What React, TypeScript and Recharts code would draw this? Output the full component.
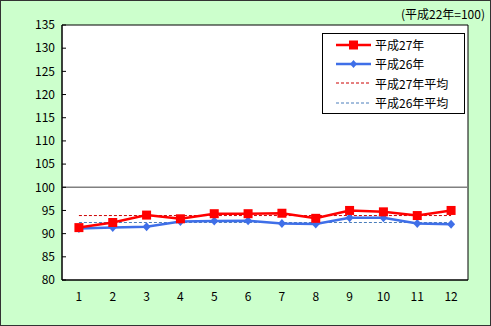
import React from "react";
import {
  ComposedChart,
  Line,
  XAxis,
  YAxis,
  CartesianGrid,
  ReferenceLine,
  ReferenceArea,
} from "recharts";

const months = ["1", "2", "3", "4", "5", "6", "7", "8", "9", "10", "11", "12"];
const h27 = [91.3, 92.4, 94.0, 93.2, 94.3, 94.3, 94.4, 93.3, 95.0, 94.7, 93.9, 95.0];
const h26 = [91.1, 91.3, 91.5, 92.6, 92.7, 92.8, 92.2, 92.1, 93.4, 93.4, 92.2, 92.0];
const h27Avg = 93.9;
const h26Avg = 92.4;
const yTicks = [80, 85, 90, 95, 100, 105, 110, 115, 120, 125, 130, 135];

const names = {
  h27: "平成27年",
  h26: "平成26年",
  h27Avg: "平成27年平均",
  h26Avg: "平成26年平均",
};
const baseNote = "(平成22年=100)";

const data = months.map((m, i) => ({
  month: m,
  h27: h27[i],
  h26: h26[i],
  h27Avg,
  h26Avg,
}));

const FONT = "'Noto Sans CJK JP', 'Noto Sans', sans-serif";
const RED = "#ff0000";
const BLUE = "#3f6fe8";

const Square = (props: any) => {
  const { cx, cy } = props;
  if (cx == null || cy == null) return null;
  return <rect x={cx - 4.5} y={cy - 4.5} width={9} height={9} fill={RED} />;
};

const Diamond = (props: any) => {
  const { cx, cy } = props;
  if (cx == null || cy == null) return null;
  return (
    <path
      d={`M${cx},${cy - 4.5}L${cx + 4},${cy}L${cx},${cy + 4.5}L${cx - 4},${cy}Z`}
      fill={BLUE}
    />
  );
};

function LegendBox() {
  const rows = [
    { key: "h27", kind: "square", color: RED, dash: undefined, w: 2.5 },
    { key: "h26", kind: "diamond", color: BLUE, dash: undefined, w: 2.5 },
    { key: "h27Avg", kind: "none", color: "#cc0000", dash: "3 2", w: 1 },
    { key: "h26Avg", kind: "none", color: "#4a7ebb", dash: "3 2", w: 1 },
  ] as const;
  return (
    <div
      style={{
        position: "absolute",
        left: 322,
        top: 33,
        width: 141,
        height: 78,
        border: "1px solid #000",
        background: "#fff",
        fontFamily: FONT,
        fontSize: 12,
        paddingTop: 1,
        boxSizing: "content-box",
      }}
    >
      {rows.map((r) => (
        <div key={r.key} style={{ display: "flex", alignItems: "center", height: 19.3 }}>
          <svg width={52} height={12}>
            <line
              x1={13}
              x2={48}
              y1={6}
              y2={6}
              stroke={r.color}
              strokeWidth={r.w}
              strokeDasharray={r.dash}
            />
            {r.kind === "square" && <rect x={26} y={1.5} width={9} height={9} fill={RED} />}
            {r.kind === "diamond" && <path d="M30.5,2L34,6L30.5,10L27,6Z" fill={BLUE} />}
          </svg>
          <span>{names[r.key]}</span>
        </div>
      ))}
    </div>
  );
}

export default function App() {
  return (
    <>
      <style>{"html,body{margin:0;padding:0;overflow:hidden}"}</style>
      <div
        style={{
          position: "absolute",
          left: 0,
          top: 0,
          width: 491,
          height: 326,
          background: "#ccffcc",
          fontFamily: FONT,
        }}
      >
        <ComposedChart
          width={491}
          height={326}
          data={data}
          margin={{ top: 25, right: 23, left: 0, bottom: 26 }}
        >
          <CartesianGrid horizontal={false} vertical={false} fill="#fff" />
          <XAxis
            dataKey="month"
            scale="band"
            tick={{ fill: "#000", fontSize: 12, fontFamily: FONT }}
            tickLine={false}
            axisLine={{ stroke: "#000" }}
            tickMargin={6}
            height={20}
          />
          <YAxis
            domain={[80, 135]}
            ticks={yTicks}
            width={62}
            interval={0}
            tick={{ fill: "#000", fontSize: 12, fontFamily: FONT }}
            tickSize={-4}
            tickMargin={11}
            tickLine={{ stroke: "#000" }}
            axisLine={{ stroke: "#000" }}
          />
          <ReferenceArea
            y1={80}
            y2={135}
            fill="none"
            fillOpacity={0}
            stroke="#000"
            strokeWidth={1}
            ifOverflow="visible"
          />
          <ReferenceLine y={100} stroke="#808080" strokeWidth={1.5} />
          <Line
            dataKey="h27Avg"
            name={names.h27Avg}
            stroke="#cc0000"
            strokeWidth={1}
            strokeDasharray="3 2"
            dot={false}
            isAnimationActive={false}
          />
          <Line
            dataKey="h26Avg"
            name={names.h26Avg}
            stroke="#4a7ebb"
            strokeWidth={1}
            strokeDasharray="3 2"
            dot={false}
            isAnimationActive={false}
          />
          <Line
            dataKey="h26"
            name={names.h26}
            stroke={BLUE}
            strokeWidth={2.5}
            dot={<Diamond />}
            isAnimationActive={false}
          />
          <Line
            dataKey="h27"
            name={names.h27}
            stroke={RED}
            strokeWidth={2.5}
            dot={<Square />}
            isAnimationActive={false}
          />
        </ComposedChart>
        <LegendBox />
        <div
          style={{
            position: "absolute",
            right: 6,
            top: 5,
            fontSize: 12,
            color: "#000",
          }}
        >
          {baseNote}
        </div>
        <div
          style={{
            position: "absolute",
            inset: 0,
            border: "1px solid #333",
            pointerEvents: "none",
          }}
        />
      </div>
    </>
  );
}
